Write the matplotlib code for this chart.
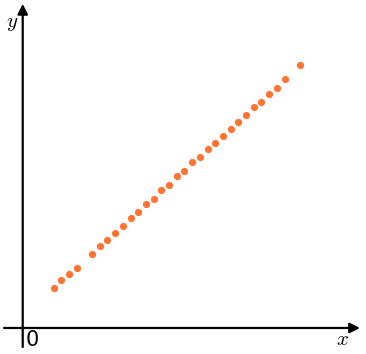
import matplotlib
matplotlib.use("Agg")
import matplotlib.pyplot as plt

plt.rcParams["mathtext.fontset"] = "cm"

# points
xs = [4, 5, 6, 7, 9, 10, 11, 12, 13, 14, 15, 16, 17, 18, 19, 20, 21,
      22, 23, 24, 25, 26, 27, 28, 29, 30, 31, 32, 33, 34, 36]
ys = [5.2, 6.2, 7.0, 7.8, 9.6, 10.7, 11.4, 12.4, 13.3, 14.3, 15.0, 16.1,
      16.8, 17.9, 18.6, 19.7, 20.4, 21.5, 22.2, 23.3, 24.0, 25.0, 25.8,
      26.8, 27.6, 28.7, 29.4, 30.4, 31.2, 32.3, 34.1]

fig = plt.figure(figsize=(3.66, 3.54), dpi=100)
ax = fig.add_axes([0, 0, 1, 1])
ax.set_xlim(-2.95, 44.58)
ax.set_ylim(-3.38, 42.6)
ax.axis("off")

### the two axes with arrow heads
arrow = dict(arrowstyle="-|>", color="black", lw=1.6, mutation_scale=15,
             shrinkA=0, shrinkB=0)
ax.annotate("", xy=(43.8, 0), xytext=(-2.43, 0), arrowprops=arrow)
ax.annotate("", xy=(0, 42.1), xytext=(0, -2.47), arrowprops=arrow)

ax.scatter(xs, ys, s=27, color="#ff7433", zorder=3, linewidths=0)

ax.text(32 / 366, 1 - 339.5 / 354, "0", transform=ax.transAxes,
        ha="center", va="center", fontsize=15)
ax.text(342 / 366, 1 - 339 / 354, "$x$", transform=ax.transAxes,
        ha="center", va="center", fontsize=15)
ax.text(12 / 366, 1 - 23 / 354, "$y$", transform=ax.transAxes,
        ha="center", va="center", fontsize=15)

fig.savefig("out.png", dpi=100)
